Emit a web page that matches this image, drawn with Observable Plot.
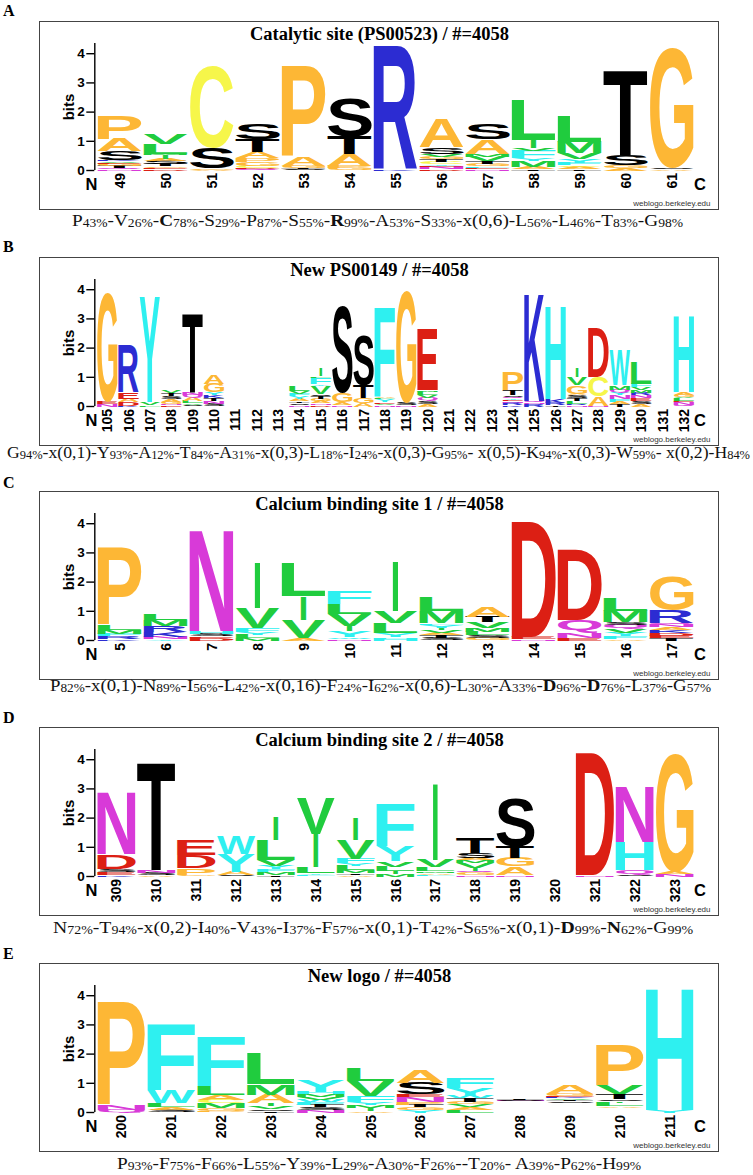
<!DOCTYPE html>
<html><head><meta charset="utf-8">
<script src="https://cdn.jsdelivr.net/npm/d3@7"></script>
<script src="https://cdn.jsdelivr.net/npm/@observablehq/plot@0.6"></script>
<style>
html,body{margin:0;padding:0;background:#fff;}
#page{position:relative;width:753px;height:1175px;overflow:hidden;background:#fff;}
.plabel{position:absolute;left:3px;font:bold 16px "Liberation Serif";line-height:20px;}
.box{position:absolute;left:39px;width:680px;height:189px;border:1px solid #444;box-sizing:border-box;background:#fff;}
.box svg{position:absolute;left:0;top:0;}
.cons{position:absolute;left:0;white-space:nowrap;font:17px "Liberation Serif";line-height:20px;color:#111;transform-origin:0 0;}
.cons sub{font-size:12px;vertical-align:baseline;position:relative;top:1.5px;}
</style></head><body><div id="page"></div>
<script>
// ---------- data ----------
const panelLetters = ["A", "B", "C", "D", "E"];
const titles = [
  "Catalytic site (PS00523) / #=4058",
  "New PS00149 / #=4058",
  "Calcium binding site 1 / #=4058",
  "Calcium binding site 2 / #=4058",
  "New logo / #=4058"
];
const posA = ["49","50","51","52","53","54","55","56","57","58","59","60","61"];
const posB = ["105","106","107","108","109","110","111","112","113","114","115","116","117","118","119","120","121","122","123","124","125","126","127","128","129","130","131","132"];
const posC = ["5","6","7","8","9","10","11","12","13","14","15","16","17"];
const posD = ["309","310","311","312","313","314","315","316","317","318","319","320","321","322","323"];
const posE = ["200","201","202","203","204","205","206","207","208","209","210","211"];

// stacks, bottom -> top, "residue:bits" ("-" = undrawn part)
const stacksA = [
  "N:0.05 Q:0.04 T:0.06 G:0.07 E:0.05 V:0.05 K:0.05 S:0.29 A:0.42 P:0.8",
  "D:0.05 E:0.05 G:0.06 T:0.06 S:0.12 A:0.06 I:0.12 M:0.06 L:0.34 V:0.34",
  "A:0.03 G:0.03 S:0.7 C:2.78",
  "Q:0.04 D:0.04 C:0.08 G:0.12 P:0.14 A:0.22 T:0.42 S:0.52",
  "S:0.05 T:0.05 G:0.07 A:0.29 P:3.08",
  "G:0.08 P:0.09 A:0.4 T:0.6 S:1.28",
  "K:0.06 R:4.16",
  "D:0.05 N:0.06 E:0.06 Y:0.06 C:0.07 T:0.08 G:0.09 V:0.1 S:0.23 A:0.97",
  "N:0.05 E:0.05 F:0.05 G:0.07 T:0.1 V:0.15 M:0.1 A:0.5 S:0.52",
  "T:0.05 A:0.06 M:0.2 Y:0.1 F:0.25 V:0.1 I:0.3 L:1.37",
  "T:0.05 A:0.06 C:0.06 F:0.1 Y:0.12 V:0.2 M:0.4 L:0.88",
  "A:0.08 G:0.09 S:0.34 T:2.91",
  "A:0.05 S:0.05 G:4.05"
];
const stacksB = [
  "N:0.07 E:0.07 G:3.72",
  "K:0.03 D:0.12 A:0.11 E:0.23 R:1.6",
  "L:0.06 V:0.08 Y:3.6",
  "E:0.04 N:0.05 G:0.08 A:0.08 S:0.1 T:0.1 V:0.1",
  "S:0.06 V:0.06 L:0.07 A:0.12 Q:0.1 N:0.08 T:2.68",
  "S:0.1 N:0.08 T:0.1 K:0.1 Y:0.1 G:0.3 A:0.3",
  "", "", "",
  "N:0.06 S:0.06 T:0.06 A:0.08 Y:0.1 F:0.08 V:0.1 L:0.18",
  "D:0.05 N:0.06 A:0.08 G:0.08 T:0.1 S:0.06 V:0.28 Y:0.05 F:0.22 L:0.05 I:0.25",
  "N:0.06 A:0.09 G:0.3 S:2.95",
  "A:0.12 G:0.18 T:0.42 S:1.71",
  "N:0.05 V:0.05 E:0.06 Y:0.08 L:0.04 A:0.04 F:3.02",
  "N:0.05 S:0.1 G:3.77",
  "A:0.1 S:0.1 Q:0.08 V:0.1 L:0.12 M:0.05 E:2.11",
  "", "", "",
  "K:0.06 R:0.06 N:0.06 E:0.05 Y:0.06 Q:0.05 S:0.05 T:0.17 P:0.6",
  "R:0.08 N:0.06 Q:0.06 K:3.66",
  "T:0.05 R:0.08 K:0.13 H:3.18",
  "N:0.05 R:0.05 L:0.1 T:0.08 S:0.1 A:0.06 G:0.28 V:0.28 I:0.3",
  "N:0.03 A:0.32 C:0.66 D:1.65",
  "T:0.08 A:0.08 F:0.1 N:0.12 Y:0.1 Q:0.1 M:0.14 W:1.16",
  "A:0.1 S:0.1 E:0.08 N:0.1 R:0.08 M:0.1 V:0.1 F:0.12 L:0.75",
  "",
  "Q:0.06 N:0.08 E:0.06 L:0.08 V:0.06 G:0.07 A:0.08 H:2.6"
];
const stacksC = [
  "K:0.06 R:0.08 F:0.08 M:0.14 L:0.16 P:2.65",
  "Y:0.06 N:0.06 K:0.16 R:0.2 M:0.22 L:0.22",
  "D:0.08 E:0.06 S:0.08 H:0.09 N:3.41",
  "M:0.08 L:0.12 Y:0.1 F:0.12 V:0.69 I:1.55",
  "A:0.08 V:0.63 I:0.8 L:1.15",
  "N:0.05 W:0.06 Y:0.2 I:0.2 V:0.4 L:0.35 F:0.42",
  "H:0.06 F:0.06 Y:0.13 L:0.35 V:0.4 I:1.66",
  "S:0.1 T:0.1 A:0.06 V:0.1 I:0.08 Y:0.1 F:0.06 M:0.4 L:0.46",
  "G:0.08 S:0.1 L:0.12 M:0.12 V:0.2 T:0.2 A:0.35",
  "N:0.05 E:0.07 D:3.97",
  "E:0.1 N:0.15 Q:0.45 D:2.42",
  "A:0.05 F:0.1 Y:0.12 V:0.12 Q:0.15 S:0.08 M:0.4 L:0.45",
  "T:0.08 E:0.08 D:0.1 K:0.1 A:0.1 N:0.08 Q:0.06 R:0.42 G:1.14"
];
const stacksD = [
  "K:0.06 E:0.1 S:0.1 D:0.5 N:2.1",
  "A:0.05 S:0.08 N:0.1 T:3.63",
  "G:0.06 P:0.23 D:0.45 E:0.5",
  "S:0.05 A:0.12 Y:0.6 W:0.6",
  "T:0.05 M:0.1 F:0.1 Y:0.12 V:0.2 L:0.68 I:0.8",
  "F:0.05 Y:0.06 L:0.2 I:1.16 V:1.22",
  "A:0.05 T:0.06 M:0.1 L:0.16 Y:0.08 F:0.16 V:0.65 I:0.72",
  "M:0.08 I:0.1 L:0.16 V:0.18 Y:0.52 F:1.43",
  "F:0.06 A:0.06 M:0.06 L:0.14 V:0.25 I:2.61",
  "N:0.06 G:0.08 Q:0.06 I:0.1 V:0.15 M:0.1 A:0.08 S:0.18 T:0.52",
  "N:0.06 A:0.28 G:0.3 T:0.38 S:1.66",
  "",
  "N:0.06 D:4.17",
  "S:0.05 Q:0.18 H:0.95 N:1.9",
  "N:0.07 A:0.1 G:4.0"
];
const stacksE = [
  "Q:0.08 N:0.16 P:3.53",
  "S:0.1 A:0.1 L:0.12 W:0.43 F:2.22",
  "P:0.06 G:0.08 M:0.18 C:0.12 A:0.15 L:0.3 F:1.66",
  "T:0.05 S:0.06 V:0.1 I:0.1 A:0.3 M:0.35 L:1.05",
  "N:0.08 S:0.1 T:0.08 F:0.1 W:0.08 V:0.1 M:0.08 H:0.08 Y:0.39",
  "A:0.06 I:0.1 M:0.1 Y:0.1 F:0.2 V:0.52 L:0.45",
  "Y:0.08 G:0.1 T:0.08 P:0.1 N:0.16 E:0.1 S:0.4 A:0.44",
  "L:0.1 A:0.1 V:0.08 G:0.08 T:0.12 W:0.1 Y:0.25 F:0.33",
  "-:0.38 N:0.02 S:0.02 T:0.02",
  "-:0.33 S:0.05 T:0.05 V:0.05 K:0.04 E:0.04 G:0.08 A:0.3",
  "-:0.16 A:0.06 L:0.12 I:0.06 S:0.06 T:0.16 V:0.3 P:1.37",
  "Y:0.07 H:4.12"
];
const consensus = [
  "P43%-V26%-*C78%-S29%-P87%-S55%-*R99%-A53%-S33%-x(0,6)-L56%-L46%-T83%-G98%",
  "G94%-x(0,1)-Y93%-A12%-T84%-A31%-x(0,3)-L18%-I24%-x(0,3)-G95%- x(0,5)-K94%-x(0,3)-W59%- x(0,2)-H84%",
  "P82%-x(0,1)-N89%-I56%-L42%-x(0,16)-F24%-I62%-x(0,6)-L30%-A33%-*D96%-*D76%-L37%-G57%",
  "N72%-T94%-x(0,2)-I40%-V43%-I37%-F57%-x(0,1)-T42%-S65%-x(0,1)-*D99%-*N62%-G99%",
  "P93%-F75%-F66%-L55%-Y39%-L29%-A30%-F26%--T20%- A39%-P62%-H99%"
];
const yTicks = [0, 1, 2, 3, 4];
const residueColors = {
  A: "#fdb735", P: "#fdb735", G: "#fdb735",
  C: "#f6f64a",
  S: "#000000", T: "#000000",
  R: "#2c2cd2", K: "#2c2cd2",
  D: "#dc1f14", E: "#dc1f14",
  L: "#20cc3e", I: "#20cc3e", V: "#20cc3e", M: "#20cc3e",
  F: "#2ef0f0", Y: "#2ef0f0", W: "#2ef0f0", H: "#2ef0f0",
  N: "#d83ad8", Q: "#d83ad8"
};

// ---------- layout ----------
const boxTops = [21, 257, 491, 727, 963];
const labelBaselines = [16.5, 252.5, 488.5, 723.5, 959.5];
const consBaselines = [227, 459, 692, 934, 1170];
const consLeft = [72, 7, 50, 53, 117];
const consRight = [683, 750, 711, 693, 641];
const W = 678, H = 187;
const ML = 56, MR = 24, MT = 21, MB = 39;
const LETTER_FS = 97, TICK_FS = 14, BITS_FS = 15;

const panels = [
  {pos: posA, stacks: stacksA}, {pos: posB, stacks: stacksB}, {pos: posC, stacks: stacksC},
  {pos: posD, stacks: stacksD}, {pos: posE, stacks: stacksE}
];

// glyph metrics via canvas
const FONT = '"Liberation Sans", Arial, Helvetica, sans-serif';
const ctx = document.createElement("canvas").getContext("2d");
ctx.font = `bold ${LETTER_FS}px ${FONT}`;
const metricsCache = {};
function metrics(ch) {
  if (!metricsCache[ch]) {
    const m = ctx.measureText(ch);
    metricsCache[ch] = {l: m.actualBoundingBoxLeft, r: m.actualBoundingBoxRight, a: m.actualBoundingBoxAscent, d: m.actualBoundingBoxDescent};
  }
  return metricsCache[ch];
}
function groupTexts(svg, fs) {
  const g = Array.from(svg.querySelectorAll("g")).find(g => g.getAttribute("font-size") == String(fs));
  return g ? Array.from(g.querySelectorAll("text")) : [];
}
function place(el, transform, anchor, dy) {
  el.removeAttribute("x"); el.removeAttribute("y"); el.removeAttribute("dy");
  el.setAttribute("text-anchor", anchor);
  if (dy) el.setAttribute("dy", dy);
  el.setAttribute("transform", transform);
}

const page = document.getElementById("page");

panels.forEach((p, k) => {
  const n = p.pos.length;
  const rows = [];
  p.stacks.forEach((s, i) => {
    let base = 0;
    s.split(/\s+/).filter(Boolean).forEach(tok => {
      const [aa, v] = tok.split(":");
      const h = +v;
      if (aa !== "-") rows.push({i, aa, y1: base, y2: base + h, color: residueColors[aa]});
      base += h;
    });
  });
  const cols = p.pos.map((label, i) => ({i, label}));

  // panel letter
  const lab = document.createElement("div");
  lab.className = "plabel";
  lab.style.top = (labelBaselines[k] - 15.4) + "px";
  lab.textContent = panelLetters[k];
  page.appendChild(lab);

  // box
  const box = document.createElement("div");
  box.className = "box";
  box.style.top = boxTops[k] + "px";
  page.appendChild(box);

  const svg = Plot.plot({
    width: W, height: H,
    marginLeft: ML, marginRight: MR, marginTop: MT, marginBottom: MB,
    style: {fontFamily: FONT, background: "transparent", overflow: "visible"},
    x: {domain: [-0.5, n - 0.5], axis: null},
    y: {domain: [0, 4.35], axis: null},
    marks: [
      Plot.text(rows, {x: "i", y: "y1", text: "aa", fill: "color", fontSize: LETTER_FS, fontWeight: "bold", fontFamily: FONT}),
      Plot.ruleX([-0.5], {y1: 0, y2: 4.35, dx: -1.7, strokeWidth: 1.4, stroke: "#000"}),
      Plot.axisY({ticks: yTicks, tickFormat: d => String(d), tickSize: 8, tickPadding: 2, dx: -1.7, fontSize: 13.5, fontWeight: "bold", strokeWidth: 1.4, label: null, anchor: "left"}),
      Plot.text(cols, {x: "i", text: "label", frameAnchor: "bottom", rotate: -90, textAnchor: "end", lineAnchor: "middle", fontSize: TICK_FS, fontWeight: "bold"}),
      Plot.text(["bits"], {frameAnchor: "left", rotate: -90, fontSize: BITS_FS, fontWeight: "bold"}),
      Plot.text([titles[k]], {frameAnchor: "top", dx: -16, dy: -4, lineAnchor: "bottom", fontFamily: '"Liberation Serif", serif', fontWeight: "bold", fontSize: 18.5}),
      Plot.text(["N"], {frameAnchor: "bottom-left", dx: -11, dy: 19, fontSize: 16.5, fontWeight: "bold"}),
      Plot.text(["C"], {frameAnchor: "bottom-right", dx: 11.5, dy: 19.5, fontSize: 16.5, fontWeight: "bold"}),
      Plot.text(["weblogo.berkeley.edu"], {frameAnchor: "bottom-right", textAnchor: "end", lineAnchor: "bottom", dx: 16, dy: 35.5, fontSize: 8, fill: "#333"})
    ]
  });
  box.appendChild(svg);

  const xs = svg.scale("x"), ys = svg.scale("y");
  const colW = xs.apply(0.5) - xs.apply(-0.5);
  const y0 = ys.apply(0);

  // stretch each letter glyph to fill its stack box, using Plot's scales
  groupTexts(svg, LETTER_FS).forEach((el, j) => {
    let idx = el.__data__;
    if (typeof idx !== "number" || !rows[idx]) idx = j;
    const d = rows[idx];
    const m = metrics(d.aa);
    const cx = xs.apply(d.i);
    const bottom = ys.apply(d.y1), top = ys.apply(d.y2);
    const w = (d.aa === "I" ? 0.12 : 0.96) * colW;
    const sx = w / (m.l + m.r);
    const sy = Math.max(bottom - top, 0.01) / (m.a + m.d);
    const tx = cx - w / 2 + m.l * sx;
    const ty = bottom - m.d * sy;
    place(el, `translate(${tx},${ty}) scale(${sx},${sy})`, "start");
  });

  // rotated position labels (read bottom to top, hanging below the baseline)
  groupTexts(svg, TICK_FS).forEach((el, j) => {
    let idx = el.__data__;
    if (typeof idx !== "number" || !cols[idx]) idx = j;
    place(el, `translate(${xs.apply(cols[idx].i)},${y0 + 2.5}) rotate(-90)`, "end", "0.36em");
  });
  // rotated "bits"
  groupTexts(svg, BITS_FS).forEach(el => {
    place(el, `translate(${ML - 28},${(ys.apply(0) + ys.apply(4.35)) / 2}) rotate(-90)`, "middle", "0.36em");
  });

  // consensus line
  const cons = document.createElement("div");
  cons.className = "cons";
  cons.style.top = (consBaselines[k] - 16.3) + "px";
  cons.innerHTML = consensus[k].replace(/(\*?)([A-Z])(\d+%)/g, (m0, b, L, pct) => (b ? `<b>${L}</b>` : L) + `<sub>${pct}</sub>`);
  page.appendChild(cons);
  const wNat = cons.getBoundingClientRect().width;
  const target = consRight[k] - consLeft[k];
  cons.style.left = consLeft[k] + "px";
  cons.style.transform = `scaleX(${target / wNat})`;
});
</script></body></html>
